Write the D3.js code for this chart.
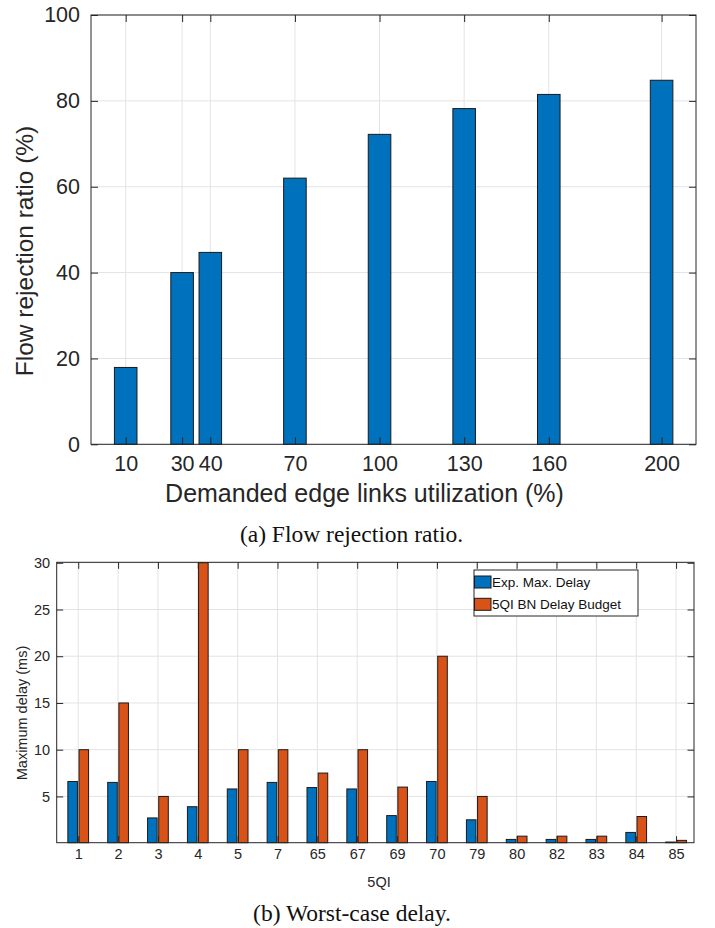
<!DOCTYPE html>
<html>
<head>
<meta charset="utf-8">
<script src="https://cdn.jsdelivr.net/npm/d3@7"></script>
<style>
  html, body { margin: 0; padding: 0; background: #fff; }
  svg { display: block; }
</style>
</head>
<body>
<svg id="chart" width="715" height="928"></svg>
<script>
// ---------- Data ----------
const utilization = [10, 30, 40, 70, 100, 130, 160, 200];
const rejectionRatio = [17.9, 40, 44.7, 62, 72.2, 78.2, 81.5, 84.8];
const rejectionTicks = [0, 20, 40, 60, 80, 100];

const qiLabels = ["1", "2", "3", "4", "5", "7", "65", "67", "69", "70", "79", "80", "82", "83", "84", "85"];
const expMaxDelay = [6.6, 6.5, 2.7, 3.9, 5.8, 6.5, 5.95, 5.8, 2.95, 6.6, 2.5, 0.4, 0.4, 0.4, 1.15, 0.12];
const bnDelayBudget = [10, 15, 5, 30, 10, 10, 7.5, 10, 6, 20, 5, 0.75, 0.75, 0.75, 2.85, 0.3];
const delayTicks = [5, 10, 15, 20, 25, 30];
const seriesNames = ["Exp. Max. Delay", "5QI BN Delay Budget"];

// ---------- Style ----------
const BLUE = "#0072BD", ORANGE = "#D95319";
const AXIS = "#262626", GRID = "#e3e3e3", EDGE = "#1a1a1a";
const SANS = "'Liberation Sans', Arial, Helvetica, sans-serif";
const SERIF = "'Liberation Serif', 'Times New Roman', serif";

const svg = d3.select("#chart");

function styleAxis(g, fontSize) {
  g.select(".domain").remove();
  g.selectAll(".tick line").attr("stroke", AXIS).attr("stroke-width", 1);
  g.selectAll(".tick text").attr("fill", AXIS).style("font-family", SANS).style("font-size", fontSize + "px");
}

// ================= Chart (a) =================
(function () {
  const L = 91, R = 696, T = 15, B = 444.3;
  const x = d3.scaleLinear().domain([-2.3, 212.2]).range([L, R]);
  const y = d3.scaleLinear().domain([0, 100]).range([B, T]);
  const g = svg.append("g");

  g.append("g").selectAll("line").data(utilization).join("line")
    .attr("x1", d => x(d)).attr("x2", d => x(d)).attr("y1", T).attr("y2", B)
    .attr("stroke", GRID).attr("stroke-width", 1);
  g.append("g").selectAll("line").data(rejectionTicks).join("line")
    .attr("x1", L).attr("x2", R).attr("y1", d => y(d)).attr("y2", d => y(d))
    .attr("stroke", GRID).attr("stroke-width", 1);

  const bw = 8;
  g.append("g").selectAll("rect").data(utilization).join("rect")
    .attr("x", d => x(d - bw / 2)).attr("width", d => x(d + bw / 2) - x(d - bw / 2))
    .attr("y", (d, i) => y(rejectionRatio[i]))
    .attr("height", (d, i) => y(0) - y(rejectionRatio[i]))
    .attr("fill", BLUE).attr("stroke", EDGE).attr("stroke-width", 1);

  const xb = g.append("g").attr("transform", `translate(0,${B})`)
    .call(d3.axisBottom(x).tickValues(utilization).tickSize(-7).tickPadding(11).tickFormat(d3.format("d")));
  styleAxis(xb, 21.5);
  const xt = g.append("g").attr("transform", `translate(0,${T})`)
    .call(d3.axisTop(x).tickValues(utilization).tickSize(-7).tickFormat(""));
  styleAxis(xt, 21.5);
  const yl = g.append("g").attr("transform", `translate(${L},0)`)
    .call(d3.axisLeft(y).tickValues(rejectionTicks).tickSize(-7).tickPadding(11));
  styleAxis(yl, 21.5);
  const yr = g.append("g").attr("transform", `translate(${R},0)`)
    .call(d3.axisRight(y).tickValues(rejectionTicks).tickSize(-7).tickFormat(""));
  styleAxis(yr, 21.5);

  g.append("rect").attr("x", L).attr("y", T).attr("width", R - L).attr("height", B - T)
    .attr("fill", "none").attr("stroke", AXIS).attr("stroke-width", 1);

  g.append("text").attr("x", 364.5).attr("y", 502)
    .attr("text-anchor", "middle").attr("fill", AXIS)
    .style("font-family", SANS).style("font-size", "25px")
    .text("Demanded edge links utilization (%)");
  g.append("text").attr("transform", `translate(33,251) rotate(-90)`)
    .attr("text-anchor", "middle").attr("fill", AXIS)
    .style("font-family", SANS).style("font-size", "24.5px")
    .text("Flow rejection ratio (%)");
  g.append("text").attr("x", 351.5).attr("y", 542)
    .attr("text-anchor", "middle").attr("fill", "#111")
    .style("font-family", SERIF).style("font-size", "23.5px")
    .text("(a) Flow rejection ratio.");
})();

// ================= Chart (b) =================
(function () {
  const L = 56.7, R = 694, T = 562.3, B = 842.7;
  const idx = qiLabels.map((d, i) => i);
  const x = d3.scaleLinear().domain([-0.54, 15.45]).range([L, R]);
  const y = d3.scaleLinear().domain([0.05, 30.05]).range([B, T]);
  const g = svg.append("g");

  g.append("g").selectAll("line").data(idx).join("line")
    .attr("x1", d => x(d)).attr("x2", d => x(d)).attr("y1", T).attr("y2", B)
    .attr("stroke", GRID).attr("stroke-width", 1);
  g.append("g").selectAll("line").data(delayTicks).join("line")
    .attr("x1", L).attr("x2", R).attr("y1", d => y(d)).attr("y2", d => y(d))
    .attr("stroke", GRID).attr("stroke-width", 1);

  const bw = 0.24, off = 0.14;
  const series = [
    { values: expMaxDelay, color: BLUE, shift: -off },
    { values: bnDelayBudget, color: ORANGE, shift: off }
  ];
  series.forEach(s => {
    g.append("g").selectAll("rect").data(idx).join("rect")
      .attr("x", d => x(d + s.shift - bw / 2))
      .attr("width", d => x(d + s.shift + bw / 2) - x(d + s.shift - bw / 2))
      .attr("y", d => y(Math.max(s.values[d], 0.05)))
      .attr("height", d => B - y(Math.max(s.values[d], 0.05)))
      .attr("fill", s.color).attr("stroke", EDGE).attr("stroke-width", 1);
  });

  const xb = g.append("g").attr("transform", `translate(0,${B})`)
    .call(d3.axisBottom(x).tickValues(idx).tickSize(-6.5).tickPadding(6).tickFormat(i => qiLabels[i]));
  styleAxis(xb, 14.5);
  const xt = g.append("g").attr("transform", `translate(0,${T})`)
    .call(d3.axisTop(x).tickValues(idx).tickSize(-6.5).tickFormat(""));
  styleAxis(xt, 14.5);
  const yl = g.append("g").attr("transform", `translate(${L},0)`)
    .call(d3.axisLeft(y).tickValues(delayTicks).tickSize(-6.5).tickPadding(6.5));
  styleAxis(yl, 14.5);
  const yr = g.append("g").attr("transform", `translate(${R},0)`)
    .call(d3.axisRight(y).tickValues(delayTicks).tickSize(-6.5).tickFormat(""));
  styleAxis(yr, 14.5);

  g.append("rect").attr("x", L).attr("y", T).attr("width", R - L).attr("height", B - T)
    .attr("fill", "none").attr("stroke", AXIS).attr("stroke-width", 1);

  const lg = g.append("g");
  lg.append("rect").attr("x", 474).attr("y", 570).attr("width", 164).attr("height", 46)
    .attr("fill", "#fff").attr("stroke", AXIS).attr("stroke-width", 1);
  [BLUE, ORANGE].forEach((c, i) => {
    const cy = 582 + i * 22.3;
    lg.append("rect").attr("x", 474.5).attr("y", cy - 6).attr("width", 16.5).attr("height", 12)
      .attr("fill", c).attr("stroke", EDGE).attr("stroke-width", 1);
    lg.append("text").attr("x", 492).attr("y", cy).attr("dy", "0.35em")
      .attr("fill", "#111").style("font-family", SANS).style("font-size", "13.5px")
      .text(seriesNames[i]);
  });

  g.append("text").attr("x", 379).attr("y", 887)
    .attr("text-anchor", "middle").attr("fill", AXIS)
    .style("font-family", SANS).style("font-size", "14.5px").text("5QI");
  g.append("text").attr("transform", `translate(27,713) rotate(-90)`)
    .attr("text-anchor", "middle").attr("fill", AXIS)
    .style("font-family", SANS).style("font-size", "14.5px")
    .text("Maximum delay (ms)");
  g.append("text").attr("x", 352).attr("y", 921)
    .attr("text-anchor", "middle").attr("fill", "#111")
    .style("font-family", SERIF).style("font-size", "23.5px")
    .text("(b) Worst-case delay.");
})();
</script>
</body>
</html>
